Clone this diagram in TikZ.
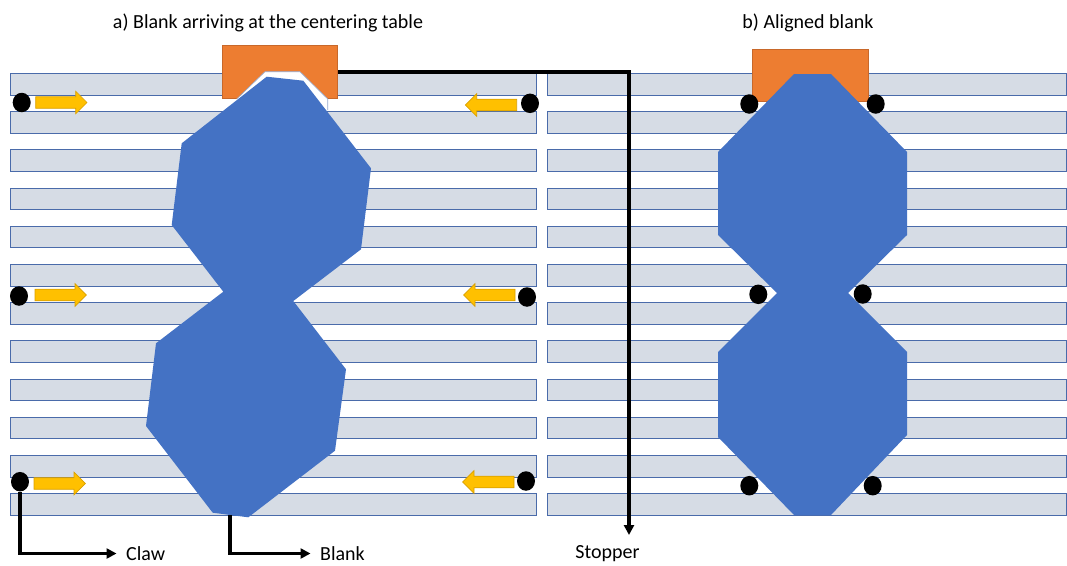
\documentclass[tikz,border=0pt]{standalone}
\usepackage{fontspec}
\setmainfont{Carlito}
\usetikzlibrary{arrows.meta,shapes.geometric}
\definecolor{stripfill}{HTML}{D6DCE5}
\definecolor{stripedge}{HTML}{4A6BAA}
\definecolor{blankblue}{HTML}{4472C4}
\definecolor{stopperorange}{HTML}{ED7D31}
\definecolor{stopperedge}{HTML}{C8682A}
\definecolor{arrowyellow}{HTML}{FFC000}
\definecolor{arrowedge}{HTML}{D9A000}
\tikzset{
  strip/.style={fill=stripfill, draw=stripedge, line width=0.8pt},
  stopperbox/.style={rectangle, fill=stopperorange, draw=stopperedge, line width=0.6pt, inner sep=0pt},
  claw/.style={ellipse, fill=black, draw=none, minimum width=18pt, minimum height=19.5pt, inner sep=0pt},
  conn/.style={line width=3.2pt, -{Triangle[length=10pt,width=10pt]}},
  lbl/.style={font=\fontsize{20}{24}\selectfont, text=black, inner ysep=0pt, inner xsep=0pt},
  sidelbl/.style={lbl, anchor=west, inner xsep=9.5pt, inner ysep=0pt},
  yarrow/.pic={\draw[fill=arrowyellow, draw=arrowedge, line width=0.7pt]
     (0,-5.8)--(40,-5.8)--(40,-11.3)--(51.3,0)--(40,11.3)--(40,5.8)--(0,5.8)--cycle;}
}
\begin{document}
\begin{tikzpicture}[x=1pt,y=-1pt]
\useasboundingbox (0,0) rectangle (1067,565);

% rollers
\foreach \i in {0,...,11}{
  \pgfmathsetmacro{\yt}{73.3+38.2*\i}
  \draw[strip] (10,\yt) rectangle (536,\yt+21.7);
  \draw[strip] (547,\yt) rectangle (1066,\yt+21.7);
}

% stoppers
\node[stopperbox, minimum width=115.7pt, minimum height=52.6pt] (stopA) at (279.85,72) {};
\node[stopperbox, minimum width=115.6pt, minimum height=52.7pt] (stopB) at (810.5,75.35) {};
\fill[white] (236.7,110)--(236.7,99)--(265,71.7)--(300,71.7)--(327.7,99)--(327.7,110)--cycle;
\draw[stripedge!60, line width=0.6pt] (236.7,99)--(265,71.7)--(300,71.7)--(327.7,99)--(327.7,110);

% blank a (misaligned)
\fill[blankblue] (266.7,76.7)--(303.3,80.7)--(371,168.3)--(361,249.3)--(293.3,301)
  --(346,369.3)--(335,450.7)--(248.3,517.3)--(212.7,512.7)--(146,426)--(156,343.3)
  --(223.3,291.7)--(171.7,225)--(181.7,143.3)--cycle;

% blank b (aligned)
\fill[blankblue] (794,74)--(831,74)--(907,152)--(907,235)--(848,293)--(907,352)
  --(907,435)--(831,515)--(794,515)--(718,437)--(718,352)--(777,293)--(718,235)
  --(718,152)--cycle;

% claws panel a
\node[claw] (ca1) at (21.7,102.5) {};
\node[claw] (ca2) at (19,296) {};
\node[claw] (ca3) at (20,481.7) {};
\node[claw] (ca4) at (530,103.3) {};
\node[claw] (ca5) at (527,297) {};
\node[claw] (ca6) at (526,481) {};
% claws panel b
\node[claw] (cb1) at (749.3,104) {};
\node[claw] (cb2) at (875.7,104) {};
\node[claw] (cb3) at (758.3,294.3) {};
\node[claw] (cb4) at (862.7,294) {};
\node[claw] (cb5) at (749.3,485.7) {};
\node[claw] (cb6) at (872.7,485.7) {};

% claw motion arrows
\pic at (35.7,102.5) {yarrow};
\pic at (35,295) {yarrow};
\pic at (34,483.5) {yarrow};
\pic[xscale=-1] at (516.7,105) {yarrow};
\pic[xscale=-1] at (515,295) {yarrow};
\pic[xscale=-1] at (514,482) {yarrow};

% titles
\node[lbl, anchor=base] (titleA) at (268,28.5) {a) Blank arriving at the centering table};
\node[lbl, anchor=base] (titleB) at (808,28.5) {b) Aligned blank};

% callouts
\node[sidelbl] (clawlbl) at (116.5,553.5) {Claw};
\node[sidelbl] (blanklbl) at (310.5,553.5) {Blank};
\node[lbl, anchor=base] (stopperlbl) at (607.5,558.5) {Stopper};
\coordinate (blankfoot) at (230,515);
\coordinate (stopend) at (629,535);

\draw[conn] (ca3) |- (clawlbl.west);
\draw[conn] (blankfoot) |- (blanklbl.west);
\draw[conn] (stopA.east) -| (stopend);
\end{tikzpicture}
\end{document}
